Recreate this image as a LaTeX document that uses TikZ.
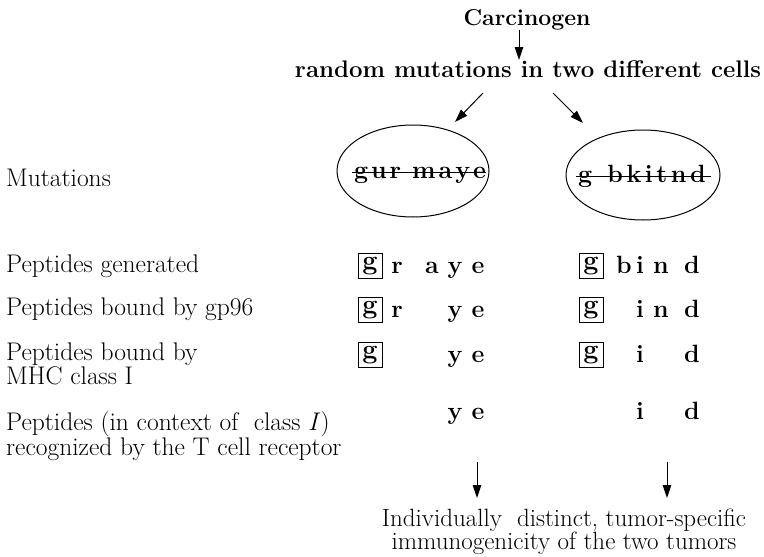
\documentclass[tikz,border=0pt]{standalone}
\usepackage{fontspec}
\usetikzlibrary{arrows.meta,shapes.geometric}

\tikzset{
  title/.style={anchor=base, inner sep=0pt, font=\bfseries\fontsize{23}{23}\selectfont},
  lab/.style={anchor=base west, inner sep=0pt, font=\fontsize{25.5}{23}\selectfont},
  labtwo/.style={anchor=north west, inner sep=0pt, align=left, font=\fontsize{25.5}{23}\selectfont},
  pep/.style={anchor=base, inner sep=0pt, font=\bfseries\fontsize{25}{25}\selectfont},
  gbox/.style={draw, line width=0.9pt, minimum width=24pt, minimum height=25pt, inner sep=0pt,
               font=\bfseries\fontsize{27}{27}\selectfont},
  mut/.style={anchor=base, inner sep=0pt, font=\bfseries\fontsize{25}{25}\selectfont},
  strike/.style={line width=1.2pt},
  cell/.style={draw, ellipse, line width=1pt, inner sep=0pt},
  arr/.style={line width=1pt, -{Triangle[length=13pt,width=8.5pt]}},
}

\begin{document}
\begin{tikzpicture}[x=1pt,y=-1pt]
\useasboundingbox (0,0) rectangle (764,557);

% cause and its effect
\node[title] (carc) at (527,25) {Carcinogen};
\node[title, font=\bfseries\fontsize{24}{24}\selectfont] (rmc) at (528,77)
  {random mutations in two different cells};
\draw[arr] ([xshift=-8pt]carc.south) -- ([xshift=-9pt]rmc.north);

% the two mutated cells
\coordinate (sA) at (483,93);  \coordinate (tA) at (455,122);
\coordinate (sB) at (553,93);  \coordinate (tB) at (583,123);
\draw[arr] (sA) -- (tA);
\draw[arr] (sB) -- (tB);

\node[cell, minimum width=152pt, minimum height=92pt] (cellA) at (413,171) {};
\node[cell, minimum width=154pt, minimum height=90pt] (cellB) at (643,175) {};

\node[mut] (seqA) at (420,178)
  {g\kern3pt u\kern3pt r\hspace{11pt}m\kern3pt a\kern3pt y\kern3pt e};
\draw[strike] ([xshift=-2pt,yshift=5.5pt]seqA.base west) -- ([yshift=5.5pt]seqA.base east);
\node[mut] (seqB) at (642,182)
  {g\hspace{15pt}b\kern3.6pt k\kern3.6pt i\kern3.6pt t\kern3.6pt n\kern3.6pt d};
\draw[strike] ([xshift=-2pt,yshift=5.5pt]seqB.base west) -- ([xshift=5pt,yshift=5.5pt]seqB.base east);

% row labels
\node[lab] (lMut) at (6,186) {Mutations};
\node[lab] (lGen) at (6,272) {Peptides generated};
\node[lab] (lGp)  at (6,315) {Peptides bound by gp96};
\node[labtwo] (lMhc) at (6,342.3) {Peptides bound by\\MHC class I};
\node[labtwo] (lTcr) at (6,410.9)
  {Peptides (in context of~ class \textit{I})\\recognized by the T cell receptor};

% peptides: boxed anchor residue g
\foreach \row/\base in {1/273, 2/317, 3/362} {
  \node[gbox] (Lg\row) at (370,\base-7) {g};
  \node[gbox] (Rg\row) at (591,\base-7) {g};
}

% peptides of the first tumour
\foreach \ch/\x in {r/397, a/432, y/455, e/478} \node[pep] (L1\ch) at (\x,273) {\ch};
\foreach \ch/\x in {r/397, y/455, e/478}        \node[pep] (L2\ch) at (\x,317) {\ch};
\foreach \ch/\x in {y/455, e/478}               \node[pep] (L3\ch) at (\x,362) {\ch};
\foreach \ch/\x in {y/455, e/478}               \node[pep] (L4\ch) at (\x,419) {\ch};

% peptides of the second tumour
\foreach \ch/\x in {b/624, i/640, n/661, d/692} \node[pep] (R1\ch) at (\x,273) {\ch};
\foreach \ch/\x in {i/640, n/661, d/692}        \node[pep] (R2\ch) at (\x,317) {\ch};
\foreach \ch/\x in {i/640, d/692}               \node[pep] (R3\ch) at (\x,362) {\ch};
\foreach \ch/\x in {i/640, d/692}               \node[pep] (R4\ch) at (\x,419) {\ch};

% outcome
\node[labtwo, anchor=north, align=center, font=\fontsize{25}{22}\selectfont] (concl) at (564,508.5)
  {Individually~ distinct, tumor-specific\\immunogenicity of the two tumors};
\coordinate (dA) at (477,462);  \coordinate (eA) at (477,498);
\coordinate (dB) at (667,462);  \coordinate (eB) at (667,498);
\draw[arr] (dA) -- (eA);
\draw[arr] (dB) -- (eB);
\end{tikzpicture}
\end{document}
